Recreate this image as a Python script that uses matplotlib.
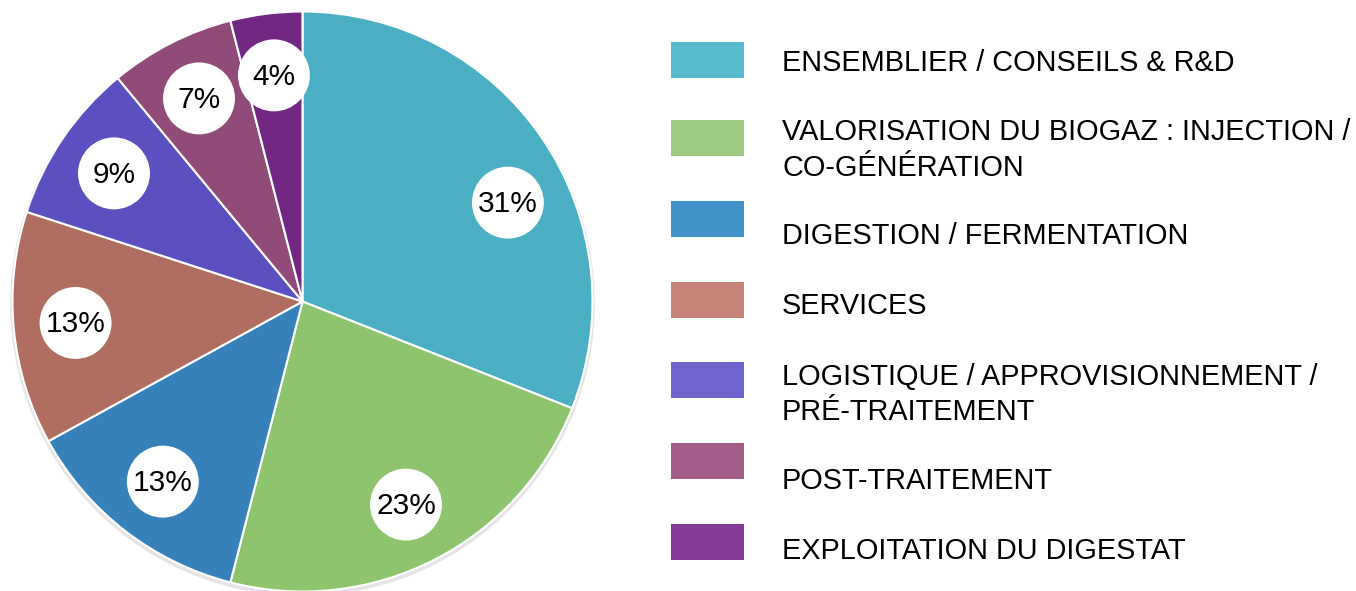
import matplotlib
matplotlib.use("Agg")
import matplotlib.pyplot as plt
from matplotlib.patches import Circle, Rectangle
import numpy as np

categories = [
    "ENSEMBLIER / CONSEILS & R&D",
    "VALORISATION DU BIOGAZ : INJECTION /\nCO-GÉNÉRATION",
    "DIGESTION / FERMENTATION",
    "SERVICES",
    "LOGISTIQUE / APPROVISIONNEMENT /\nPRÉ-TRAITEMENT",
    "POST-TRAITEMENT",
    "EXPLOITATION DU DIGESTAT",
]
values = [31, 23, 13, 13, 9, 7, 4]
pie_colors = ["#4AAFC2", "#8EC46E", "#3781BA", "#B06E60", "#5C50C0", "#904B78", "#722883"]
legend_colors = ["#56BBCC", "#9FCB84", "#4192C8", "#C58276", "#6F65CC", "#A25C88", "#853A95"]

# label placement style (angle offset in degrees from wedge middle)
label_angle_offset = [-8.5, 0, 0, 0, 0, 0, 0]
label_dist = 0.786

plt.rcParams['font.family'] = ['Liberation Sans', 'DejaVu Sans']

W, H = 1356, 591
fig = plt.figure(figsize=(W / 100, H / 100), dpi=100)

R = 290
cx, cy = 302.5, 301.5
half = 1.04 * R
ax = fig.add_axes([(cx - half) / W, (H - cy - half) / H, 2 * half / W, 2 * half / H])
ax.axis('off')

# subtle shadow
ax.add_patch(Circle((0.0, -0.008), 1.008, fc="#000000", alpha=0.10, ec="none", zorder=0))

wedges, _ = ax.pie(values, colors=pie_colors, startangle=90, counterclock=False,
                   radius=1.0, wedgeprops=dict(edgecolor="white", linewidth=1.5),
                   frame=False)
for w in wedges:
    w.set_zorder(1)
ax.set_xlim(-1.04, 1.04)
ax.set_ylim(-1.04, 1.04)
ax.set_aspect('equal')

for w, v, off in zip(wedges, values, label_angle_offset):
    ang = np.deg2rad((w.theta1 + w.theta2) / 2 + off)
    x, y = label_dist * np.cos(ang), label_dist * np.sin(ang)
    ax.add_patch(Circle((x, y), 0.124, fc="white", ec="none", zorder=3))
    ax.text(x, y - 0.005, f"{v}%", ha="center", va="center", fontsize=21.5,
            color="black", zorder=4)

# legend
lax = fig.add_axes([0, 0, 1, 1])
lax.set_xlim(0, W)
lax.set_ylim(H, 0)
lax.axis('off')
patch_y = [60, 138, 219, 300, 380, 461, 542]
text_base = [71, 140, 244, 314, 385, 489, 559]
line_step = 35.5
for yc, yb, col, lab in zip(patch_y, text_base, legend_colors, categories):
    lax.add_patch(Rectangle((671, yc - 18), 73, 36, fc=col, ec="none"))
    for i, line in enumerate(lab.split("\n")):
        lax.text(782, yb + i * line_step, line, ha="left", va="baseline",
                 fontsize=20.8, color="black")

fig.savefig("out.png", dpi=100)
